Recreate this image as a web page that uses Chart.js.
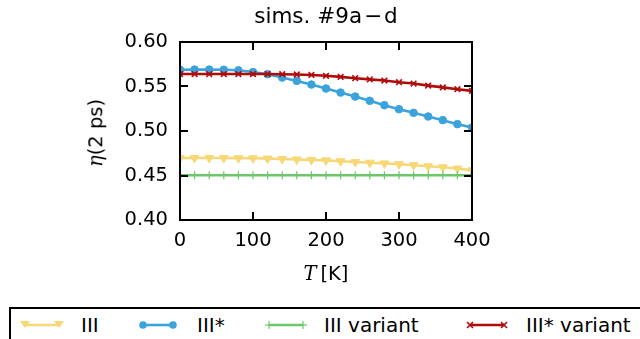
<!DOCTYPE html>
<html><head><meta charset="utf-8">
<script src="https://cdn.jsdelivr.net/npm/chart.js@4/dist/chart.umd.min.js"></script>
<style>
html,body{margin:0;padding:0;background:#fff;overflow:hidden;}
#wrap{position:relative;width:640px;height:339px;font-family:"DejaVu Sans",sans-serif;}
canvas{position:absolute;left:0;top:0;}
.lbl{position:absolute;white-space:nowrap;color:#000;font-size:19.5px;line-height:1;}
#legend{position:absolute;left:9px;top:307px;width:660px;height:60px;border:2px solid #000;box-sizing:border-box;background:#fff;}
.li{position:absolute;font-size:20px;line-height:1;white-space:nowrap;}
svg.ls{position:absolute;overflow:visible;}
</style></head>
<body><div id="wrap">
<canvas id="c" width="640" height="339"></canvas>
<div class="lbl" id="title" style="left:326px;top:16px;transform:translate(-50%,-50%);font-size:21.5px;"></div>
<div class="lbl" id="xt" style="left:326px;top:274px;transform:translate(-50%,-50%);"><span style="font-family:'DejaVu Serif',serif;font-style:italic;">T</span>&#8201;[K]</div>
<div class="lbl" id="yt" style="left:96px;top:133px;transform:translate(-50%,-50%) rotate(-90deg);"><span style="font-family:'DejaVu Serif',serif;font-style:italic;">η</span>(2 ps)</div>
<div id="legend"></div>
</div>
<script>
const temperatures = [0,20,40,60,80,100,120,140,160,180,200,220,240,260,280,300,320,340,360,380,400];
const seriesIII =        [0.4696,0.4696,0.4696,0.4696,0.4695,0.4693,0.4690,0.4685,0.4680,0.4675,0.4670,0.4660,0.4652,0.4644,0.4636,0.4627,0.4616,0.4604,0.4592,0.4578,0.4558];
const seriesIIIstar =    [0.5687,0.5690,0.5690,0.5688,0.5682,0.5662,0.5638,0.5600,0.5563,0.5522,0.5477,0.5432,0.5387,0.5339,0.5290,0.5245,0.5204,0.5163,0.5122,0.5077,0.5040];
const seriesIIIvar =     [0.4503,0.4503,0.4503,0.4503,0.4503,0.4503,0.4503,0.4503,0.4503,0.4503,0.4503,0.4503,0.4503,0.4503,0.4503,0.4503,0.4503,0.4503,0.4503,0.4503,0.4503];
const seriesIIIstarVar = [0.5640,0.5640,0.5640,0.5640,0.5640,0.5640,0.5640,0.5638,0.5635,0.5630,0.5620,0.5608,0.5593,0.5580,0.5567,0.5548,0.5533,0.5510,0.5490,0.5470,0.5451];
const seriesNames = ["III","III*","III variant","III* variant"];
const xTicks = [0,100,200,300,400];
const yTicks = [0.40,0.45,0.50,0.55,0.60];
const titleParts = ["sims. #9a","\u2212","d"];

const colors = ["#f7d876","#3ba3dc","#6cc76a","#b00a0a"];
const styles = [
  {pointStyle:"triangle", rotation:180, pointRadius:5, pointBorderWidth:1},
  {pointStyle:"circle", rotation:0, pointRadius:3.8, pointBorderWidth:1},
  {pointStyle:"cross", rotation:0, pointRadius:4, pointBorderWidth:1.2},
  {pointStyle:"crossRot", rotation:0, pointRadius:4, pointBorderWidth:1.6}
];
const allSeries = [seriesIII, seriesIIIstar, seriesIIIvar, seriesIIIstarVar];
const orders = [3,2,1,0];

// title (math minus with small spacing)
const tEl = document.getElementById("title");
tEl.innerHTML = titleParts[0] + '<span style="margin:0 2px;">' + titleParts[1] + '</span>' + titleParts[2];

const datasets = allSeries.map((s,i)=>({
  label: seriesNames[i],
  data: temperatures.map((t,j)=>({x:t,y:s[j]})),
  borderColor: colors[i],
  backgroundColor: colors[i],
  pointBackgroundColor: colors[i],
  pointBorderColor: colors[i],
  borderWidth: 2.6,
  tension: 0,
  clip: 0,
  order: orders[i],
  pointStyle: styles[i].pointStyle,
  rotation: styles[i].rotation,
  pointRadius: styles[i].pointRadius,
  pointBorderWidth: styles[i].pointBorderWidth
}));

const frame = {
  id:"frame",
  afterDatasetsDraw(chart){
    const {ctx, chartArea:a, scales:{x,y}} = chart;
    ctx.save();
    ctx.strokeStyle="#000";
    ctx.lineWidth=2;
    const L=8;
    ctx.beginPath();
    x.ticks.forEach(t=>{
      const px=Math.round(x.getPixelForValue(t.value));
      ctx.moveTo(px,a.bottom); ctx.lineTo(px,a.bottom-L);
      ctx.moveTo(px,a.top); ctx.lineTo(px,a.top+L);
    });
    y.ticks.forEach(t=>{
      const py=Math.round(y.getPixelForValue(t.value));
      ctx.moveTo(a.left,py); ctx.lineTo(a.left+L,py);
      ctx.moveTo(a.right,py); ctx.lineTo(a.right-L,py);
    });
    ctx.stroke();
    ctx.strokeRect(a.left,a.top,a.right-a.left,a.bottom-a.top);
    ctx.restore();
  }
};

new Chart(document.getElementById("c"),{
  type:"line",
  data:{datasets},
  options:{
    responsive:false,
    devicePixelRatio:1,
    animation:false,
    layout:{padding:{left:0,right:168,top:42,bottom:0}},
    plugins:{
      legend:{display:false},
      tooltip:{enabled:false},
      title:{display:false}
    },
    scales:{
      x:{type:"linear",min:0,max:400,
        afterBuildTicks(s){s.ticks=xTicks.map(v=>({value:v}));},
        afterFit(s){s.height=119;},
        grid:{display:false,drawTicks:false},
        border:{display:false},
        ticks:{color:"#000",padding:9,maxRotation:0,font:{family:"DejaVu Sans",size:19.5},callback:v=>String(v)}
      },
      y:{type:"linear",min:0.40,max:0.60,
        afterBuildTicks(s){s.ticks=yTicks.map(v=>({value:v}));},
        afterFit(s){s.width=180;},
        grid:{display:false,drawTicks:false},
        border:{display:false},
        ticks:{color:"#000",padding:12,font:{family:"DejaVu Sans",size:19.5},callback:v=>Number(v).toFixed(2)}
      }
    }
  },
  plugins:[frame]
});

// HTML legend with line samples
const legendPos = [
  {line:[14,48], text:70},
  {line:[132,162], text:186},
  {line:[258,292], text:313},
  {line:[459,493], text:515}
];
const leg = document.getElementById("legend");
const ly = 16;
seriesNames.forEach((name,i)=>{
  const p = legendPos[i];
  const w = p.line[1]-p.line[0];
  const svgNS="http://www.w3.org/2000/svg";
  const svg=document.createElementNS(svgNS,"svg");
  svg.setAttribute("class","ls");
  svg.setAttribute("width",w); svg.setAttribute("height",16);
  svg.style.left=p.line[0]+"px"; svg.style.top=(ly-8)+"px";
  const c=colors[i];
  let inner=`<line x1="0" y1="8" x2="${w}" y2="8" stroke="${c}" stroke-width="2.6"/>`;
  [0,w].forEach(mx=>{
    if(i===0) inner+=`<polygon points="${mx-5},4 ${mx+5},4 ${mx},11" fill="${c}"/>`;
    if(i===1) inner+=`<circle cx="${mx}" cy="8" r="3.8" fill="${c}"/>`;
    if(i===2) inner+=`<line x1="${mx}" y1="4" x2="${mx}" y2="12" stroke="${c}" stroke-width="1.2"/><line x1="${mx-4}" y1="8" x2="${mx+4}" y2="8" stroke="${c}" stroke-width="1.2"/>`;
    if(i===3) inner+=`<line x1="${mx-3}" y1="5" x2="${mx+3}" y2="11" stroke="${c}" stroke-width="1.6"/><line x1="${mx-3}" y1="11" x2="${mx+3}" y2="5" stroke="${c}" stroke-width="1.6"/>`;
  });
  svg.innerHTML=inner;
  leg.appendChild(svg);
  const t=document.createElement("div");
  t.className="li"; t.textContent=name;
  t.style.left=p.text+"px"; t.style.top=(ly-10)+"px";
  leg.appendChild(t);
});
</script>
</body></html>
